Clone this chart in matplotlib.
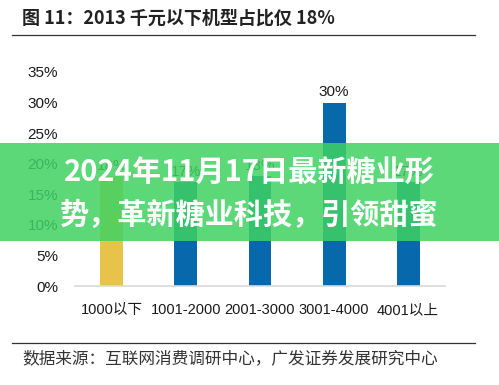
import matplotlib
matplotlib.use("Agg")
import matplotlib.pyplot as plt
from matplotlib.patches import Rectangle
from matplotlib.lines import Line2D
from matplotlib.ticker import PercentFormatter

plt.rcParams['font.family'] = ['Noto Sans CJK SC', 'DejaVu Sans']

categories = ["1000以下", "1001-2000", "2001-3000", "3001-4000", "4001以上"]
shares = [0.18, 0.17, 0.18, 0.30, 0.17]
bar_colors = ["#E8C34A", "#0868AC", "#0868AC", "#0868AC", "#0868AC"]

fig = plt.figure(figsize=(4.99, 3.85), dpi=100)
fig.patch.set_facecolor("white")

latin = ["Liberation Sans", "Noto Sans CJK SC", "DejaVu Sans"]

ax = fig.add_axes([0.150, 0.257, 0.742, 0.556])
x = range(len(categories))
ax.bar(x, shares, width=0.31, color=bar_colors, zorder=2)
for xi, v in zip(x, shares):
    ax.text(xi, v + 0.017, f"{v*100:.0f}%", ha="center", va="center",
            fontsize=11, color="#1a1a1a", family=latin)

ax.set_ylim(0, 0.35)
ax.set_xlim(-0.5, 4.5)
ax.set_yticks([0, 0.05, 0.10, 0.15, 0.20, 0.25, 0.30, 0.35])
ax.yaxis.set_major_formatter(PercentFormatter(1.0, decimals=0))
ax.set_xticks(list(x))
ax.set_xticklabels(categories, family=latin, fontsize=10.5)
ax.tick_params(axis="y", length=0, labelsize=11, colors="#1a1a1a", pad=12)
ax.tick_params(axis="x", length=0, colors="#1a1a1a", pad=12)
for lab in ax.get_yticklabels():
    lab.set_family(latin)
for s in ["top", "right", "left"]:
    ax.spines[s].set_visible(False)
ax.spines["bottom"].set_color("#d9d9d9")
ax.spines["bottom"].set_linewidth(1.2)

# header and footer
fig.text(22 / 499, 1 - 18 / 385, "图 11：2013 千元以下机型占比仅 18%", fontsize=13,
         fontweight="heavy", color="#222222", va="center", ha="left")
fig.add_artist(Line2D([12 / 499, 475 / 499], [1 - 35 / 385] * 2, color="#333333", lw=0.9))
fig.add_artist(Line2D([12 / 499, 475 / 499], [1 - 343 / 385] * 2, color="#333333", lw=0.9))
fig.text(22 / 499, 1 - 359 / 385, "数据来源：互联网消费调研中心，广发证券发展研究中心",
         fontsize=12, color="#333333", va="center", ha="left")

# green overlay banner
fig.add_artist(Rectangle((0, 1 - 241 / 385), 1, 98 / 385, transform=fig.transFigure,
                         facecolor="#3FD262", alpha=0.85, edgecolor="none", zorder=5))
fig.text(0.5, 1 - 173 / 385, "2024年11月17日最新糖业形", fontsize=21, fontweight="black",
         color="white", ha="center", va="center", zorder=6)
fig.text(0.5, 1 - 215 / 385, "势，革新糖业科技，引领甜蜜", fontsize=21, fontweight="black",
         color="white", ha="center", va="center", zorder=6)

fig.savefig("out.png", dpi=100)
